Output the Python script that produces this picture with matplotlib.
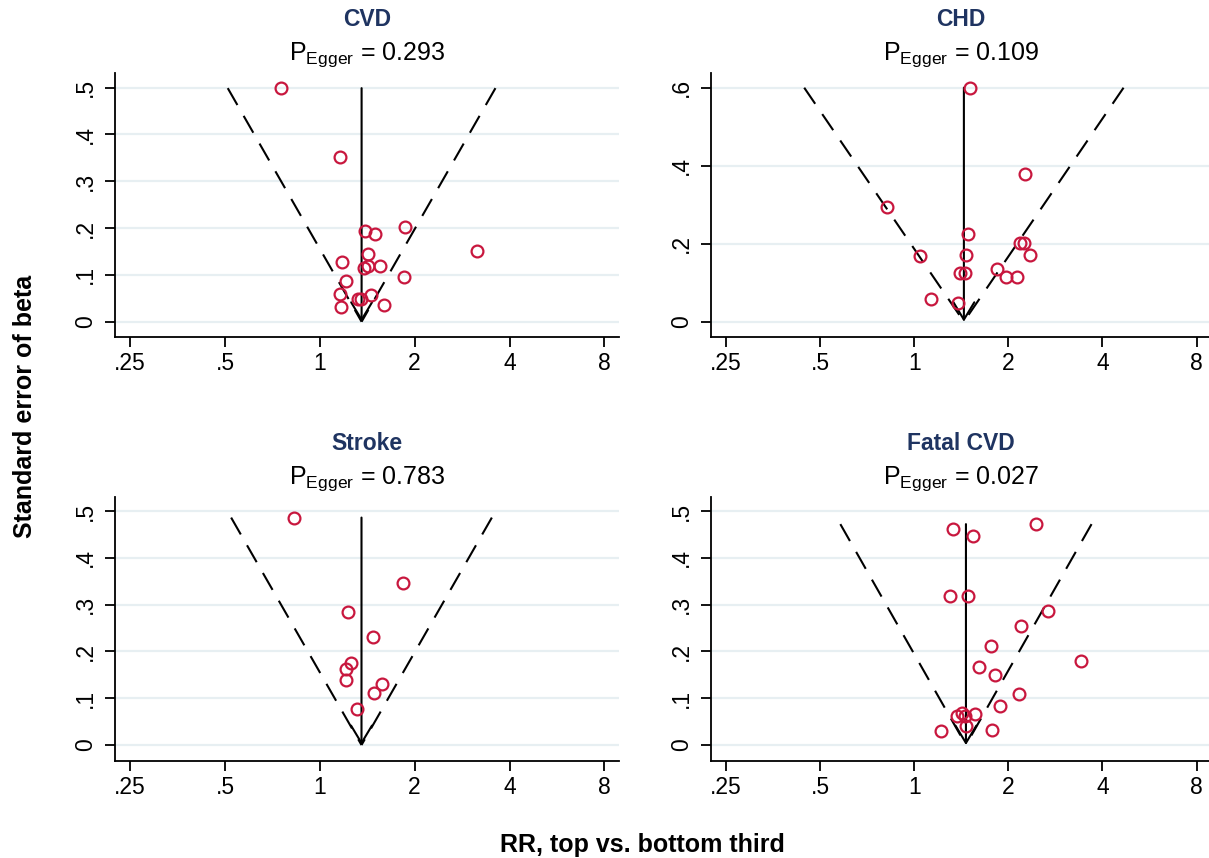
import numpy as np
import matplotlib
matplotlib.use("Agg")
import matplotlib.pyplot as plt

plt.rcParams['font.family'] = ['Liberation Sans', 'DejaVu Sans']
plt.rcParams['mathtext.fontset'] = 'custom'
plt.rcParams['mathtext.rm'] = 'Liberation Sans'
plt.rcParams['mathtext.it'] = 'Liberation Sans:italic'
plt.rcParams['mathtext.bf'] = 'Liberation Sans:bold'
plt.rcParams['lines.scale_dashes'] = False

# ---- data -----------------------------------------------------------------
outcomes = ["CVD", "CHD", "Stroke", "Fatal CVD"]
p_egger = ["0.293", "0.109", "0.783", "0.027"]
pooled_rr = [1.357, 1.442, 1.356, 1.464]

cvd_rr = [0.751, 1.16, 1.392, 1.495, 1.857, 3.15, 1.418, 1.172, 1.381, 1.418,
          1.552, 1.847, 1.21, 1.16, 1.452, 1.32, 1.356, 1.169, 1.60]
cvd_se = [0.499, 0.351, 0.194, 0.187, 0.202, 0.152, 0.145, 0.128, 0.115, 0.119,
          0.119, 0.096, 0.086, 0.059, 0.058, 0.048, 0.048, 0.031, 0.036]

chd_rr = [1.506, 2.27, 0.817, 1.484, 2.18, 2.24, 1.042, 1.461, 2.35, 1.84,
          1.971, 2.14, 1.40, 1.45, 1.131, 1.377]
chd_se = [0.600, 0.378, 0.294, 0.225, 0.203, 0.203, 0.168, 0.171, 0.171, 0.136,
          0.114, 0.114, 0.124, 0.124, 0.058, 0.048]

stroke_rr = [0.831, 1.838, 1.229, 1.475, 1.252, 1.21, 1.21, 1.58, 1.487, 1.31]
stroke_se = [0.486, 0.347, 0.284, 0.230, 0.175, 0.162, 0.138, 0.130, 0.112, 0.078]

fatal_rr = [2.46, 1.331, 1.546, 1.30, 1.483, 2.68, 2.19, 1.763, 3.42, 1.607,
            1.818, 2.17, 1.88, 1.57, 1.37, 1.423, 1.449, 1.464, 1.772, 1.216]
fatal_se = [0.472, 0.462, 0.446, 0.319, 0.319, 0.286, 0.254, 0.212, 0.180, 0.167,
            0.150, 0.109, 0.084, 0.066, 0.062, 0.068, 0.062, 0.041, 0.033, 0.029]

rr_values = [cvd_rr, chd_rr, stroke_rr, fatal_rr]
se_values = [cvd_se, chd_se, stroke_se, fatal_se]

x_ticks = [0.25, 0.5, 1, 2, 4, 8]
x_tick_labels = [".25", ".5", "1", "2", "4", "8"]
y_ticks_05 = [0, 0.1, 0.2, 0.3, 0.4, 0.5]
y_tick_labels_05 = ["0", ".1", ".2", ".3", ".4", ".5"]
y_ticks_06 = [0, 0.2, 0.4, 0.6]
y_tick_labels_06 = ["0", ".2", ".4", ".6"]

# ---- layout ---------------------------------------------------------------
W, H = 1209, 858
fig = plt.figure(figsize=(W / 100, H / 100), dpi=100)

def px_axes(left, top, width, height):
    return fig.add_axes([left / W, 1 - (top + height) / H, width / W, height / H])

panel_boxes = [(115, 72.7, 504, 264), (711, 72.7, 500, 264),
               (115, 496.7, 504, 264), (711, 496.7, 500, 264)]
ylims = [(-0.032, 0.532), (-0.0385, 0.6385), (-0.0335, 0.5306), (-0.0335, 0.5306)]
yticks = [(y_ticks_05, y_tick_labels_05), (y_ticks_06, y_tick_labels_06),
          (y_ticks_05, y_tick_labels_05), (y_ticks_05, y_tick_labels_05)]

marker_color = "#c8173e"
title_color = "#1f3461"
grid_color = "#e7eff2"

for i, name in enumerate(outcomes):
    left, top, width, height = panel_boxes[i]
    ax = px_axes(left, top, width, height)
    rr = np.array(rr_values[i])
    se = np.array(se_values[i])
    theta = np.log(pooled_rr[i])
    se_max = se.max()

    ax.set_xscale("log")
    ax.set_xlim(0.2239, 8.90)
    ax.set_ylim(*ylims[i])

    ticks, labels = yticks[i]
    ax.set_yticks(ticks)
    ax.set_yticklabels(labels, rotation=90, va="center")
    ax.set_xticks(x_ticks)
    ax.set_xticklabels(x_tick_labels)
    ax.minorticks_off()
    for t in ticks:
        ax.axhline(t, color=grid_color, lw=1.6, zorder=0)

    for side in ("top", "right"):
        ax.spines[side].set_visible(False)
    for side in ("left", "bottom"):
        ax.spines[side].set_linewidth(1.3)
    ax.tick_params(axis="both", length=7, width=1.3, labelsize=16.5, color="black")
    ax.tick_params(axis="y", pad=6)
    ax.tick_params(axis="x", pad=4)

    # pseudo 95% confidence limits
    lo = np.exp(theta - 1.96 * se_max)
    hi = np.exp(theta + 1.96 * se_max)
    pooled = np.exp(theta)
    ax.plot([lo, pooled], [se_max, 0], color="black", lw=1.5,
            dashes=(14, 9), zorder=2)
    ax.plot([hi, pooled], [se_max, 0], color="black", lw=1.5,
            dashes=(14, 9), zorder=2)

    # pooled estimate
    ax.annotate("", xy=(pooled, 0), xytext=(pooled, se_max),
                arrowprops=dict(arrowstyle="->,head_length=1.25,head_width=0.75",
                                color="black", lw=1.5, shrinkA=0, shrinkB=0,
                                mutation_scale=10),
                zorder=3)

    ax.plot(rr, se, linestyle="none", marker="o", markersize=8.5,
            markerfacecolor="none", markeredgecolor=marker_color,
            markeredgewidth=1.6, zorder=4)

    cx = (left + width / 2) / W
    fig.text(cx, 1 - (top - 46.7) / H, name, ha="center", va="baseline",
             fontsize=16.5, fontweight="bold", color=title_color)
    fig.text(cx, 1 - (top - 12.7) / H,
             r"P$_{\mathrm{Egger}}$ = " + p_egger[i], ha="center",
             va="baseline", fontsize=18, color="black")

fig.text(25 / W, 1 - 406 / H, "Standard error of beta", rotation=90,
         ha="center", va="center", fontsize=18, fontweight="bold")
fig.text(642 / W, 1 - 845 / H, "RR, top vs. bottom third",
         ha="center", va="center", fontsize=18, fontweight="bold")

fig.savefig("out.png", dpi=100, facecolor="white")
